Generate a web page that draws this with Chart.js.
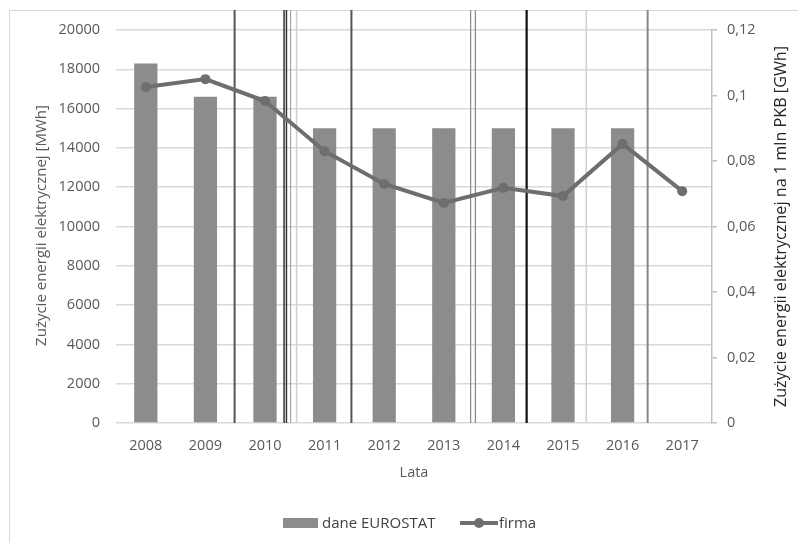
<!DOCTYPE html>
<html>
<head>
<meta charset="utf-8">
<script src="https://cdn.jsdelivr.net/npm/chart.js@4"></script>
<style>
  body { margin: 0; background: #fff; overflow: hidden; }
  #wrap { position: relative; width: 798px; height: 543px; }
  #frame { position: absolute; left: 9px; top: 10px; width: 820px; height: 600px; border: 1.5px solid #d9d9d9; box-sizing: border-box; }
  canvas { position: absolute; left: 0; top: 0; }
  #legend { position: absolute; left: 0; width: 798px; top: 512px; height: 20px; font-family: 'Open Sans', sans-serif; font-size: 15px; color: #404040; }
  .lg { position: absolute; top: 0; line-height: 20px; white-space: nowrap; }
  .sw-bar { position: absolute; width: 35px; height: 10px; background: #8c8c8e; top: 6px; }
  .sw-line { position: absolute; width: 38px; height: 4px; background: #6e6e6e; top: 9px; }
  .sw-dot { position: absolute; width: 10px; height: 10px; border-radius: 50%; background: #6e6e6e; top: 6px; }
</style>
</head>
<body>
<div id="wrap">
  <div id="frame"></div>
  <canvas id="c" width="798" height="543"></canvas>
  <div id="legend">
    <div class="sw-bar" style="left:283px"></div>
    <div class="lg" style="left:322px">dane EUROSTAT</div>
    <div class="sw-line" style="left:460px"></div>
    <div class="sw-dot" style="left:474px"></div>
    <div class="lg" style="left:499px">firma</div>
  </div>
</div>
<script>
/* ═══════════════════════════
   DATA
═══════════════════════════ */
const lata = ['2008','2009','2010','2011','2012','2013','2014','2015','2016','2017'];
const daneEurostat = [18300, 16600, 16600, 15000, 15000, 15000, 15000, 15000, 15000, null];
const firma = [0.1026, 0.105, 0.0983, 0.083, 0.073, 0.0672, 0.0718, 0.0693, 0.0852, 0.0708];

const leftMax = 20000, leftStep = 2000;
const rightMax = 0.12, rightStep = 0.02;

const FONT = 'Open Sans';
const grey = '#595959';

// scan artefacts (vertical streaks), position in category units
const streaks = [
  { at: 1.49, color: '#555', w: 2 },
  { at: 2.32, color: '#333', w: 1.5 },
  { at: 2.36, color: '#333', w: 1.5 },
  { at: 2.43, color: '#999', w: 1 },
  { at: 2.53, color: '#d0d0d0', w: 1.5 },
  { at: 3.45, color: '#555', w: 2 },
  { at: 5.45, color: '#888', w: 1.2 },
  { at: 5.53, color: '#888', w: 1.2 },
  { at: 6.39, color: '#111', w: 2.2 },
  { at: 7.39, color: '#d0d0d0', w: 1.5 },
  { at: 8.42, color: '#888', w: 2 }
];

const streakPlugin = {
  id: 'streaks',
  beforeDatasetsDraw(chart) {
    const { ctx, chartArea, scales } = chart;
    ctx.save();
    streaks.forEach(s => {
      const x = scales.x.getPixelForValue(s.at);
      ctx.beginPath();
      ctx.strokeStyle = s.color;
      ctx.lineWidth = s.w;
      ctx.moveTo(x, chartArea.top - 20);
      ctx.lineTo(x, chartArea.bottom);
      ctx.stroke();
    });
    ctx.restore();
  }
};

// both y titles read bottom-to-top, like the Excel original
const yTitles = [
  { text: 'Zużycie energii elektrycznej [MWh]', x: 42, dy: -1, color: grey, size: 15 },
  { text: 'Zużycie energii elektrycznej na 1 mln PKB [GWh]', x: 781, dy: 0, color: '#262626', size: 16.2 }
];

const titlePlugin = {
  id: 'yTitles',
  afterDraw(chart) {
    const { ctx, chartArea } = chart;
    const midY = (chartArea.top + chartArea.bottom) / 2;
    yTitles.forEach(t => {
      ctx.save();
      ctx.translate(t.x, midY + t.dy);
      ctx.rotate(-Math.PI / 2);
      ctx.font = `${t.size}px '${FONT}'`;
      ctx.fillStyle = t.color;
      ctx.textAlign = 'center';
      ctx.textBaseline = 'middle';
      ctx.fillText(t.text, 0, 0);
      ctx.restore();
    });
  }
};

new Chart(document.getElementById('c'), {
  type: 'bar',
  data: {
    labels: lata,
    datasets: [
      {
        type: 'line',
        label: 'firma',
        data: firma,
        yAxisID: 'y1',
        borderColor: '#6e6e6e',
        backgroundColor: '#6e6e6e',
        borderWidth: 4,
        pointRadius: 5,
        pointBackgroundColor: '#6e6e6e',
        pointBorderWidth: 0,
        tension: 0,
        order: 0
      },
      {
        label: 'dane EUROSTAT',
        data: daneEurostat,
        yAxisID: 'y',
        backgroundColor: '#8c8c8e',
        categoryPercentage: 1,
        barPercentage: 0.39,
        order: 1
      }
    ]
  },
  options: {
    responsive: false,
    animation: false,
    layout: { padding: { top: 30, bottom: 57, left: 0, right: 0 } },
    plugins: { legend: { display: false }, tooltip: { enabled: false } },
    scales: {
      x: {
        offset: true,
        grid: { display: false, drawTicks: false },
        border: { display: false },
        ticks: { color: grey, padding: 14, font: { family: FONT, size: 14.5 } },
        title: { display: true, text: 'Lata', color: grey, font: { family: FONT, size: 14.5 } },
        afterFit: s => { s.height = 63; }
      },
      y: {
        position: 'left',
        min: 0, max: leftMax,
        ticks: { stepSize: leftStep, color: grey, padding: 16, font: { family: FONT, size: 14.5 }, callback: v => String(v) },
        grid: { color: '#d9d9d9', lineWidth: 1.5, drawTicks: false },
        border: { display: false },
        afterFit: s => { s.width = 116; }
      },
      y1: {
        position: 'right',
        min: 0, max: rightMax,
        ticks: { stepSize: rightStep, color: grey, padding: 10, font: { family: FONT, size: 14.5 },
          callback: v => String(Number(v.toFixed(2))).replace('.', ',') },
        grid: { drawOnChartArea: false, color: '#bfbfbf', tickLength: 5, lineWidth: 1.5 },
        border: { display: true, color: '#bfbfbf', width: 1.5 },
        afterFit: s => { s.width = 86; }
      }
    }
  },
  plugins: [streakPlugin, titlePlugin]
});
</script>
</body>
</html>
